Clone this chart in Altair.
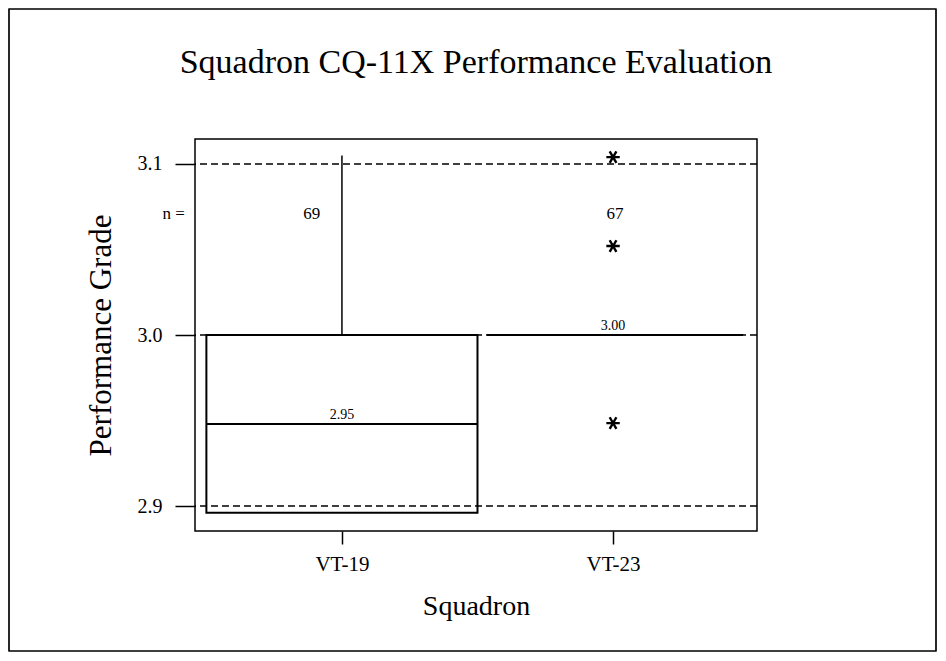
import altair as alt
import pandas as pd

# ---- data ----
squadrons = ["VT-19", "VT-23"]
positions = [1, 2]

# VT-19 box (open rectangle)
box_x = [0.5]
box_x2 = [1.5]
box_q1 = [2.896]
box_q3 = [3.0]

# medians
median_x = [0.5, 1.535]
median_x2 = [1.5, 2.48]
median_val = [2.948, 3.00]
median_text = ["2.95", "3.00"]
median_text_x = [1.0, 2.0]

# whisker (VT-19)
whisker_x = [1]
whisker_lo = [3.0]
whisker_hi = [3.105]

# outliers (VT-23)
outlier_x = [2, 2, 2]
outlier_y = [3.104, 3.052, 2.9485]

# dashed reference lines
ref_lines = [2.9, 3.0, 3.1]

# n labels
n_text = ["n =", "69", "67"]
n_x = [0.379, 0.889, 2.007]
n_y = [3.071, 3.071, 3.071]

y_ticks = [2.9, 3.0, 3.1]

FONT = "Liberation Serif"
W, H = 562, 392

xscale = alt.Scale(domain=[0.458, 2.531], nice=False, zero=False)
yscale = alt.Scale(domain=[2.8854, 3.1146], nice=False, zero=False)

label_expr = " : ".join(
    [f"datum.value == {p} ? '{s}'" for p, s in zip(positions, squadrons)]
) + " : ''"

x_axis = alt.Axis(values=positions, labelExpr=label_expr, title="Squadron",
                  grid=False, domain=False, tickSize=13, tickWidth=1.5,
                  tickColor="black", labelFontSize=21, labelPadding=9,
                  titleFontSize=28, titlePadding=18, labelFlush=False,
                  labelFont=FONT, titleFont=FONT, titleFontWeight="normal",
                  labelColor="black", titleColor="black")
y_axis = alt.Axis(values=y_ticks, format=".1f", title="Performance Grade",
                  grid=False, domain=False, tickSize=20, tickWidth=1.5,
                  tickColor="black", labelFontSize=20, labelPadding=13,
                  titleFontSize=31, titlePadding=20,
                  labelFont=FONT, titleFont=FONT, titleFontWeight="normal",
                  labelColor="black", titleColor="black")

refs_df = pd.DataFrame({"y": ref_lines})
box_df = pd.DataFrame({"x": box_x, "x2": box_x2, "q1": box_q1, "q3": box_q3})
med_df = pd.DataFrame({"x": median_x, "x2": median_x2, "y": median_val})
medt_df = pd.DataFrame({"x": median_text_x, "y": median_val, "t": median_text})
wh_df = pd.DataFrame({"x": whisker_x, "lo": whisker_lo, "hi": whisker_hi})
out_df = pd.DataFrame({"x": outlier_x, "y": outlier_y})
n_df = pd.DataFrame({"x": n_x, "y": n_y, "t": n_text})
axis_df = pd.DataFrame({"x": positions, "y": [3.0, 3.0]})

base_axes = alt.Chart(axis_df).mark_point(opacity=0).encode(
    x=alt.X("x:Q", scale=xscale, axis=x_axis),
    y=alt.Y("y:Q", scale=yscale, axis=y_axis),
)

border = alt.Chart(axis_df).mark_rect(
    fill=None, fillOpacity=0, stroke="black", strokeWidth=1.2, clip=False
).encode(
    x=alt.value(-186), x2=alt.value(W + 179),
    y=alt.value(-130), y2=alt.value(H + 120),
)

refs = alt.Chart(refs_df).mark_rule(
    color="black", strokeWidth=1.5, strokeDash=[7, 4]
).encode(y=alt.Y("y:Q", scale=yscale))

box = alt.Chart(box_df).mark_rect(
    fillOpacity=0, stroke="black", strokeWidth=2
).encode(
    x=alt.X("x:Q", scale=xscale), x2="x2:Q",
    y=alt.Y("q1:Q", scale=yscale), y2="q3:Q",
)

med = alt.Chart(med_df).mark_rule(color="black", strokeWidth=2).encode(
    x=alt.X("x:Q", scale=xscale), x2="x2:Q",
    y=alt.Y("y:Q", scale=yscale),
)

medt = alt.Chart(medt_df).mark_text(
    font=FONT, fontSize=14, baseline="bottom", dy=-2, color="black"
).encode(
    x=alt.X("x:Q", scale=xscale), y=alt.Y("y:Q", scale=yscale), text="t:N"
)

wh = alt.Chart(wh_df).mark_rule(color="black", strokeWidth=1.5).encode(
    x=alt.X("x:Q", scale=xscale),
    y=alt.Y("lo:Q", scale=yscale), y2="hi:Q",
)

star_path = "M-1,0L1,0M-0.5,-0.87L0.5,0.87M-0.5,0.87L0.5,-0.87"
outl = alt.Chart(out_df).mark_point(
    shape=star_path, filled=False, stroke="black", strokeWidth=2.4,
    size=180, opacity=1
).encode(
    x=alt.X("x:Q", scale=xscale), y=alt.Y("y:Q", scale=yscale)
)

ntext = alt.Chart(n_df).mark_text(
    font=FONT, fontSize=17, color="black", clip=False
).encode(
    x=alt.X("x:Q", scale=xscale), y=alt.Y("y:Q", scale=yscale), text="t:N"
)

chart = alt.layer(
    base_axes, border, refs, box, med, medt, wh, outl, ntext
).properties(
    width=W, height=H,
    background="white",
    title=alt.TitleParams(
        "Squadron CQ-11X Performance Evaluation", font=FONT, fontSize=34,
        fontWeight="normal", color="black", anchor="middle", frame="group",
        baseline="alphabetic", offset=-99
    ),
    autosize=alt.AutoSizeParams(type="none"),
    padding={"left": 187, "top": 131, "right": 930 - 187 - W, "bottom": 645 - 131 - H},
).configure_view(
    stroke="black", strokeWidth=1.5
)

chart.save("out.html", embed_options={"renderer": "svg", "actions": False})
